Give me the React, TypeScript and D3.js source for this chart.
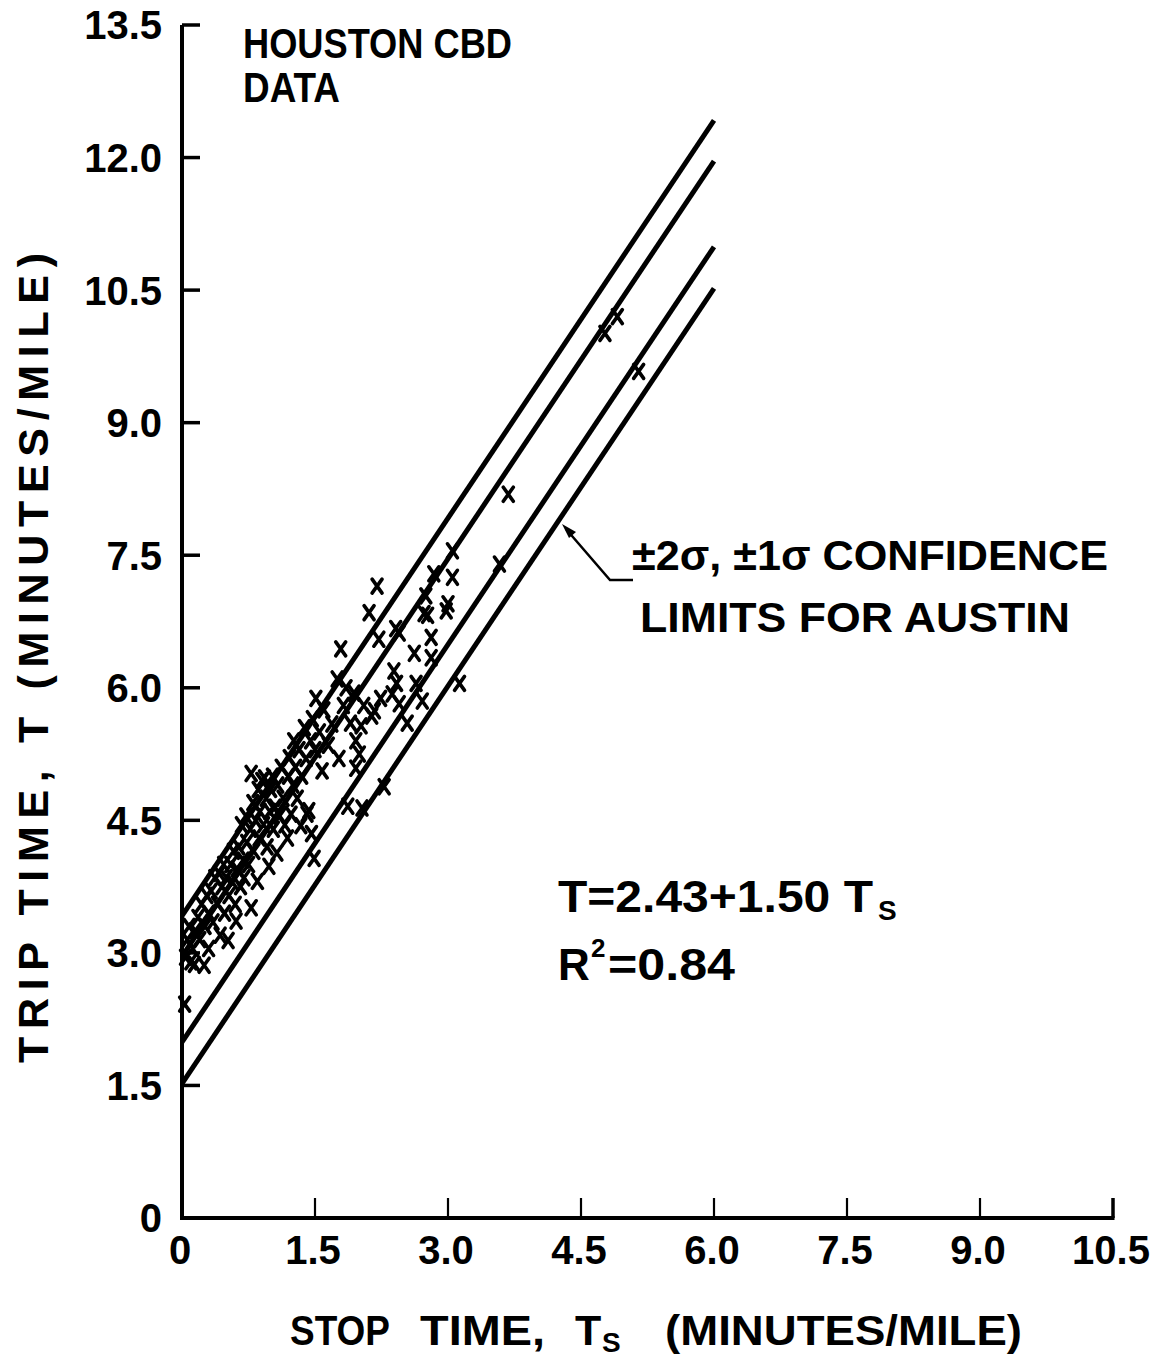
import React from 'react';
import * as d3 from 'd3';

const xTicks = [0, 1.5, 3.0, 4.5, 6.0, 7.5, 9.0, 10.5];
const xTickLabels = ['0', '1.5', '3.0', '4.5', '6.0', '7.5', '9.0', '10.5'];
const yTicks = [0, 1.5, 3.0, 4.5, 6.0, 7.5, 9.0, 10.5, 12.0, 13.5];
const yTickLabels = ['0', '1.5', '3.0', '4.5', '6.0', '7.5', '9.0', '10.5', '12.0', '13.5'];

// Austin confidence limits: -2σ, -1σ, +1σ, +2σ (intercepts), common slope
const limitIntercepts = [1.52, 1.99, 2.96, 3.42];
const limitSlope = 1.5;
const limitRange = [0, 6.0];

// Houston CBD observations [stop time, trip time]
const houstonPoints: [number, number][] = [
  [0.03, 2.42], [0.04, 2.95], [0.06, 3.15], [0.08, 3.3], [0.1, 2.9], [0.12, 3.05],
  [0.14, 2.87], [0.15, 3.25], [0.18, 3.4], [0.2, 3.15], [0.22, 3.55], [0.25, 2.86],
  [0.26, 3.3], [0.28, 3.65], [0.3, 3.45], [0.3, 3.05],
  [0.33, 3.7], [0.35, 3.35], [0.37, 3.85], [0.4, 3.55], [0.42, 3.9], [0.43, 3.2],
  [0.45, 3.75], [0.47, 4.0], [0.48, 3.45], [0.5, 3.85],
  [0.52, 3.14], [0.53, 3.65], [0.55, 4.0], [0.57, 3.8], [0.58, 4.15], [0.6, 3.55],
  [0.61, 3.36], [0.62, 3.95], [0.64, 4.2], [0.66, 3.75], [0.67, 4.45], [0.69, 4.05], [0.7, 3.85],
  [0.72, 4.55], [0.73, 4.25], [0.75, 4.0], [0.77, 4.4], [0.78, 5.03], [0.78, 3.51],
  [0.8, 4.7], [0.81, 4.15], [0.83, 4.5], [0.85, 3.81], [0.86, 4.85], [0.87, 4.3],
  [0.88, 4.6], [0.9, 4.95],
  [0.92, 4.45], [0.93, 4.98], [0.95, 4.75], [0.96, 4.2], [0.98, 3.98], [0.99, 4.6],
  [1.0, 4.85], [1.02, 5.0], [1.03, 4.4], [1.05, 4.65], [1.07, 4.13], [1.08, 4.9], [1.1, 4.55],
  [1.12, 5.1], [1.14, 4.75], [1.16, 4.45], [1.19, 4.3], [1.2, 5.0], [1.21, 5.21],
  [1.23, 4.57], [1.25, 4.9], [1.26, 5.4], [1.28, 5.1], [1.3, 4.75], [1.32, 5.3],
  [1.34, 4.44], [1.35, 5.0], [1.38, 5.55], [1.4, 5.2], [1.41, 4.57], [1.43, 4.61],
  [1.45, 5.4], [1.46, 4.35], [1.47, 5.65], [1.49, 4.07], [1.5, 5.3], [1.51, 5.88],
  [1.55, 5.5], [1.58, 5.06], [1.6, 5.75], [1.65, 5.35], [1.69, 5.59], [1.75, 6.1],
  [1.77, 5.2], [1.79, 6.44], [1.82, 5.8], [1.85, 6.0], [1.87, 4.66], [1.9, 5.6],
  [1.94, 5.94], [1.96, 5.4], [1.96, 5.09], [2.0, 5.25],
  [2.02, 5.57], [2.03, 4.64], [2.05, 5.8], [2.11, 6.85], [2.14, 5.68], [2.17, 5.74],
  [2.2, 7.15], [2.22, 6.55], [2.24, 5.88], [2.28, 4.88], [2.37, 5.93], [2.39, 6.19],
  [2.42, 6.05], [2.41, 6.67], [2.45, 6.62], [2.45, 5.82],
  [2.54, 5.6], [2.62, 6.39], [2.64, 6.05], [2.71, 5.85], [2.73, 6.84], [2.75, 7.04],
  [2.77, 6.82], [2.81, 6.57], [2.81, 6.34], [2.84, 7.29], [2.98, 6.87], [3.0, 6.95],
  [3.05, 7.25], [3.05, 7.55], [3.13, 6.05],
  [3.58, 7.4], [3.68, 8.19], [4.77, 10.01], [4.91, 10.2], [5.15, 9.58],
];

const FONT = '"Liberation Sans", Arial, sans-serif';

export default function App() {
  const x = d3.scaleLinear().domain([0, 10.5]).range([182, 1113]);
  const y = d3.scaleLinear().domain([0, 13.5]).range([1218, 25]);

  return (
    <svg
      width={1151}
      height={1360}
      style={{ position: 'absolute', left: 0, top: 0, background: '#fff' }}
      fontFamily={FONT}
    >
      <rect x={0} y={0} width={1151} height={1360} fill="#fff" />

      {/* axes */}
      <line x1={x(0)} y1={y(13.5)} x2={x(0)} y2={y(0) + 2} stroke="#000" strokeWidth={4} />
      <line x1={x(0) - 2} y1={y(0)} x2={x(10.5) + 1.5} y2={y(0)} stroke="#000" strokeWidth={4} />
      {yTicks.map((t) => (
        <line key={'yt' + t} x1={x(0)} x2={x(0) + 18} y1={y(t)} y2={y(t)} stroke="#000" strokeWidth={3.5} />
      ))}
      {xTicks.map((t) => (
        <line key={'xt' + t} x1={x(t)} x2={x(t)} y1={y(0)} y2={y(0) - 20} stroke="#000" strokeWidth={t === 10.5 ? 3.5 : 2.2} />
      ))}

      {/* tick labels */}
      {yTicks.map((t, i) => (
        <text key={'yl' + t} x={162} y={y(t)} dy="0.36em" textAnchor="end" fontSize={40} fontWeight="bold">
          {yTickLabels[i]}
        </text>
      ))}
      {xTicks.map((t, i) => (
        <text key={'xl' + t} x={x(t) - 2} y={1264} textAnchor="middle" fontSize={40} fontWeight="bold">
          {xTickLabels[i]}
        </text>
      ))}

      {/* axis titles */}
      <text
        transform="translate(48,658) rotate(-90)"
        textAnchor="middle"
        fontSize={43}
        fontWeight="bold"
        textLength={810}
        lengthAdjust="spacing"
      >
        TRIP TIME, T  (MINUTES/MILE)
      </text>
      <text x={290} y={1345} fontSize={43} fontWeight="bold" textLength={100} lengthAdjust="spacingAndGlyphs">STOP</text>
      <text x={420} y={1345} fontSize={43} fontWeight="bold" textLength={125} lengthAdjust="spacingAndGlyphs">TIME,</text>
      <text x={575} y={1345} fontSize={43} fontWeight="bold">T</text>
      <text x={602} y={1352} fontSize={28} fontWeight="bold">S</text>
      <text x={665} y={1345} fontSize={43} fontWeight="bold" textLength={357} lengthAdjust="spacingAndGlyphs">(MINUTES/MILE)</text>

      {/* confidence limit lines */}
      {limitIntercepts.map((b) => (
        <path
          key={'lim' + b}
          d={
            d3
              .line<number>()
              .x((d) => x(d))
              .y((d) => y(b + limitSlope * d))(limitRange) || ''
          }
          stroke="#000"
          strokeWidth={5}
          fill="none"
        />
      ))}

      {/* data points */}
      {houstonPoints.map(([sx, ty], i) => (
        <path
          key={'p' + i}
          transform={`translate(${x(sx)},${y(ty)})`}
          d="M-5,-7L5,7M5,-7L-5,7"
          stroke="#000"
          strokeWidth={3.6}
          strokeLinecap="round"
          fill="none"
        />
      ))}

      {/* header */}
      <text x={243} y={58} fontSize={43} fontWeight="bold" textLength={269} lengthAdjust="spacingAndGlyphs">HOUSTON CBD</text>
      <text x={243} y={102} fontSize={43} fontWeight="bold" textLength={97} lengthAdjust="spacingAndGlyphs">DATA</text>

      {/* confidence annotation */}
      <path d="M633,580 L610,580 L566,529" stroke="#000" strokeWidth={2.5} fill="none" />
      <path d="M562,524 L576,532 L569,538 Z" fill="#000" />
      <text x={632} y={570} fontSize={43} fontWeight="bold" textLength={476} lengthAdjust="spacingAndGlyphs">
        ±2σ, ±1σ CONFIDENCE
      </text>
      <text x={640} y={632} fontSize={43} fontWeight="bold" textLength={430} lengthAdjust="spacingAndGlyphs">
        LIMITS FOR AUSTIN
      </text>

      {/* regression */}
      <text x={558} y={912} fontSize={44} fontWeight="bold" textLength={315} lengthAdjust="spacingAndGlyphs">
        T=2.43+1.50 T
      </text>
      <text x={878} y={920} fontSize={28} fontWeight="bold">S</text>
      <text x={558} y={980} fontSize={44} fontWeight="bold">R</text>
      <text x={591} y={957} fontSize={26} fontWeight="bold">2</text>
      <text x={608} y={980} fontSize={44} fontWeight="bold" textLength={127} lengthAdjust="spacingAndGlyphs">=0.84</text>
    </svg>
  );
}
